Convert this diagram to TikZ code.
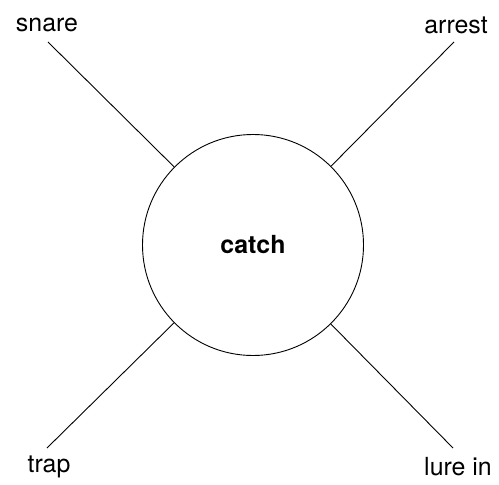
\documentclass[tikz,border=0pt]{standalone}
\usepackage{fontspec}
\setmainfont{TeX Gyre Heros}
\begin{document}
\begin{tikzpicture}[x=1bp,y=-1bp,
  lbl/.style={font=\fontsize{25}{29}\selectfont, inner sep=0pt},
  conn/.style={draw=black, line width=0.9bp}]
\useasboundingbox[fill=white] (0,0) rectangle (499,485);
\node[circle, draw, line width=0.9bp, minimum size=221bp, inner sep=0pt,
  font=\fontsize{25}{29}\selectfont\bfseries] (c) at (253,245) {catch};
\node[lbl] (snare) at (47,25) {snare};
\node[lbl] (arrest) at (456,25) {arrest};
\node[lbl] (trap) at (49,467) {trap};
\node[lbl] (lure) at (458,467) {lure in};
\coordinate (s1) at (48,42);
\coordinate (a1) at (454,42);
\coordinate (t1) at (47,448);
\coordinate (l1) at (453,448);
\draw[conn] (s1) -- (c);
\draw[conn] (a1) -- (c);
\draw[conn] (t1) -- (c);
\draw[conn] (l1) -- (c);
\end{tikzpicture}
\end{document}
